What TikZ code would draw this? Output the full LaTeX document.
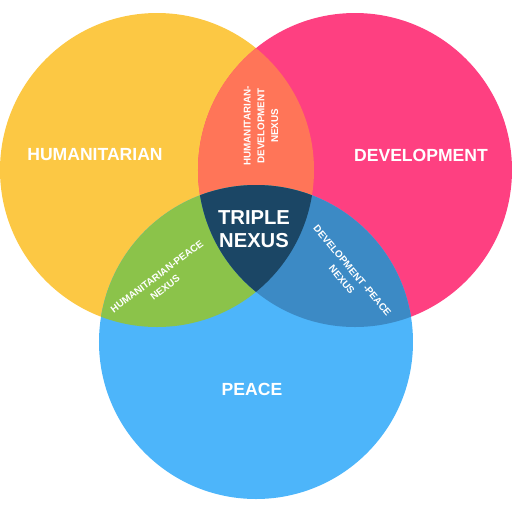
\documentclass[tikz,border=0pt]{standalone}
\usepackage{fontspec}
\setmainfont{Liberation Sans}
\usepackage{tikz}
\definecolor{humcol}{HTML}{FCC844}
\definecolor{devcol}{HTML}{FE4081}
\definecolor{peacol}{HTML}{4DB5FA}
\definecolor{hdcol}{HTML}{FF7558}
\definecolor{hpcol}{HTML}{8BC34A}
\definecolor{dpcol}{HTML}{3C8AC5}
\definecolor{tricol}{HTML}{1B4665}
\tikzset{%
  every label text/.style={
    text=white,
    font=\bfseries\fontsize{10}{12}\selectfont,
    inner sep=0pt
  },
  nexus text/.style={
    text=white,
    font=\bfseries\fontsize{5.6}{7.8}\selectfont,
    align=center,
    inner sep=0pt
  },
}
\begin{document}
\begin{tikzpicture}[x=0.02cm,y=-0.02cm]
    \useasboundingbox (0,0) rectangle (512,512);
    \def\rad{157}
    \coordinate (hum) at (157,170);
    \coordinate (dev) at (355,170);
    \coordinate (pea) at (256,342);
    % the three circles
    \fill[humcol] (hum) circle (\rad);
    \fill[devcol] (dev) circle (\rad);
    \fill[peacol] (pea) circle (\rad);
    % pairwise overlaps
    \begin{scope}
        \clip (hum) circle (\rad);
        \fill[hdcol] (dev) circle (\rad);
        \fill[hpcol] (pea) circle (\rad);
    \end{scope}
    \begin{scope}
        \clip (dev) circle (\rad);
        \fill[dpcol] (pea) circle (\rad);
    \end{scope}
    % centre
    \begin{scope}
        \clip (hum) circle (\rad);
        \clip (dev) circle (\rad);
        \fill[tricol] (pea) circle (\rad);
    \end{scope}
    \node[every label text] (humlabel) at (95,155) {HUMANITARIAN};
    \node[every label text] (devlabel) at (421,155) {DEVELOPMENT};
    \node[every label text] (pealabel) at (252,389) {PEACE};
    \node[every label text,align=center,font=\bfseries\fontsize{11.5}{13}\selectfont] (triple) at (254,229) {TRIPLE\\NEXUS};
    \node[nexus text,rotate=90] (hdnexus) at (261,126) {HUMANITARIAN-\\DEVELOPMENT\\NEXUS};
    \node[nexus text,rotate=37] (hpnexus) at (161,282) {HUMANITARIAN-PEACE\\NEXUS};
    \node[nexus text,rotate=-50] (dpnexus) at (347,275) {DEVELOPMENT -PEACE\\NEXUS};
\end{tikzpicture}
\end{document}
